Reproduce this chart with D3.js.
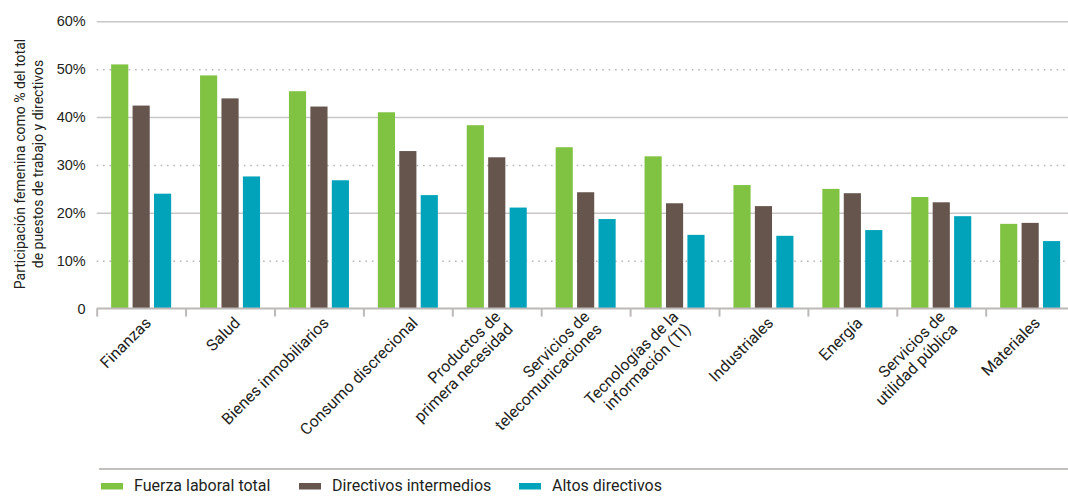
<!DOCTYPE html>
<html>
<head>
<meta charset="utf-8">
<script src="https://cdn.jsdelivr.net/npm/d3@7"></script>
<style>
    body { margin: 0; background: #fff; }
    svg { display: block; font-family: Roboto, "Open Sans", sans-serif; }
    text { fill: #231f20; }
</style>
</head>
<body>
<svg id="chart"></svg>
<script>
// categories (line breaks where the label wraps)
const categories = [
    ['Finanzas'],
    ['Salud'],
    ['Bienes inmobiliarios'],
    ['Consumo discrecional'],
    ['Productos de', 'primera necesidad'],
    ['Servicios de', 'telecomunicaciones'],
    ['Tecnologías de la', 'información (TI)'],
    ['Industriales'],
    ['Energía'],
    ['Servicios de', 'utilidad pública'],
    ['Materiales']
];
const seriesNames = ['Fuerza laboral total', 'Directivos intermedios', 'Altos directivos'];
const fuerzaLaboral = [51.0, 48.7, 45.4, 41.0, 38.3, 33.7, 31.8, 25.8, 25.0, 23.3, 17.7];
const directivosIntermedios = [42.4, 43.9, 42.2, 32.9, 31.6, 24.3, 22.0, 21.4, 24.1, 22.2, 17.9];
const altosDirectivos = [24.0, 27.6, 26.8, 23.7, 21.1, 18.7, 15.4, 15.2, 16.4, 19.3, 14.1];
const yTicks = [0, 10, 20, 30, 40, 50, 60];
const yTitle = ['Participación femenina como % del total', 'de puestos de trabajo y directivos'];

const colors = ['#80c242', '#65554d', '#00a3ba'];
const series = [fuerzaLaboral, directivosIntermedios, altosDirectivos];

const W = 1068, H = 498;
const m = { left: 96.7, right: 1074.6, top: 21.3, bottom: 308.6 };

const svg = d3.select('#chart').attr('width', W).attr('height', H);

const keys = categories.map(c => c.join(' '));

const x = d3.scaleBand()
    .domain(keys)
    .range([m.left, m.right])
    .paddingInner(0.325)
    .paddingOuter(0.1625);

const xSub = d3.scaleBand()
    .domain(d3.range(series.length))
    .range([0, x.bandwidth()])
    .paddingInner(0.2);

const y = d3.scaleLinear().domain([0, 60]).range([m.bottom, m.top]);

// grid + y labels
const yAxis = svg.append('g')
    .attr('transform', `translate(${m.left},0)`)
    .call(d3.axisLeft(y)
        .tickValues(yTicks)
        .tickSize(-(W - m.left))
        .tickPadding(11)
        .tickFormat(d => d === 0 ? '0' : d + '%'));
yAxis.select('.domain').remove();
yAxis.selectAll('.tick line')
    .attr('stroke', d => d % 20 === 0 ? '#cac6c5' : '#b5b2b2')
    .attr('stroke-width', 1.5)
    .attr('stroke-dasharray', d => d % 20 === 0 ? null : '1.5,4.9')
    .style('display', d => d === 0 ? 'none' : null);
yAxis.selectAll('.tick text')
    .attr('fill', '#231f20')
    .style('font-size', '14.5px');

// bars
const groups = svg.append('g')
    .selectAll('g')
    .data(keys)
    .enter()
    .append('g')
    .attr('transform', d => `translate(${x(d)},0)`);

groups.selectAll('rect')
    .data((d, i) => series.map((s, j) => ({ j: j, v: s[i] })))
    .enter()
    .append('rect')
    .attr('x', d => xSub(d.j))
    .attr('width', xSub.bandwidth())
    .attr('y', d => y(d.v))
    .attr('height', d => y(0) - y(d.v))
    .attr('fill', d => colors[d.j]);

// x axis: ticks sit between categories
const xEdge = d3.scaleLinear().domain([0, keys.length]).range([m.left, m.right]);
const xAxis = svg.append('g')
    .attr('transform', `translate(0,${m.bottom})`)
    .call(d3.axisBottom(xEdge)
        .tickValues(d3.range(keys.length + 1))
        .tickSize(8)
        .tickFormat(''));
xAxis.select('.domain')
    .attr('stroke', '#bdb9b8')
    .attr('stroke-width', 2)
    .attr('d', `M${m.left},0H${W}`);
xAxis.selectAll('.tick line')
    .attr('stroke', '#bdb9b8')
    .attr('stroke-width', 2);

// category labels, rotated
const lineH = 17.5;
svg.append('g')
    .selectAll('text')
    .data(categories)
    .enter()
    .append('text')
    .attr('transform', (d, i) => `translate(${x(keys[i]) + x.bandwidth() / 2 + 7},320) rotate(-45)`)
    .attr('text-anchor', 'end')
    .style('font-size', '16px')
    .each(function (d) {
        const off = -(d.length - 1) * lineH / 2;
        d3.select(this).selectAll('tspan')
            .data(d)
            .enter()
            .append('tspan')
            .attr('x', 0)
            .attr('y', (t, k) => off + k * lineH)
            .attr('dy', '0.35em')
            .text(t => t);
    });

// y title
svg.append('text')
    .attr('transform', `translate(25,164) rotate(-90)`)
    .attr('text-anchor', 'middle')
    .style('font-size', '14px')
    .selectAll('tspan')
    .data(yTitle)
    .enter()
    .append('tspan')
    .attr('x', 0)
    .attr('y', (d, i) => i * 18)
    .text(d => d);

// legend
svg.append('line')
    .attr('x1', 99).attr('x2', W)
    .attr('y1', 469).attr('y2', 469)
    .attr('stroke', '#c3bfbd')
    .attr('stroke-width', 2);

const legendX = [101, 299, 519];
const legend = svg.append('g')
    .selectAll('g')
    .data(seriesNames)
    .enter()
    .append('g')
    .attr('transform', (d, i) => `translate(${legendX[i]},483)`);
legend.append('rect')
    .attr('width', 22)
    .attr('height', 6.5)
    .attr('fill', (d, i) => colors[i]);
legend.append('text')
    .attr('x', 33)
    .attr('y', 8)
    .style('font-size', '16px')
    .text(d => d);
</script>
</body>
</html>
